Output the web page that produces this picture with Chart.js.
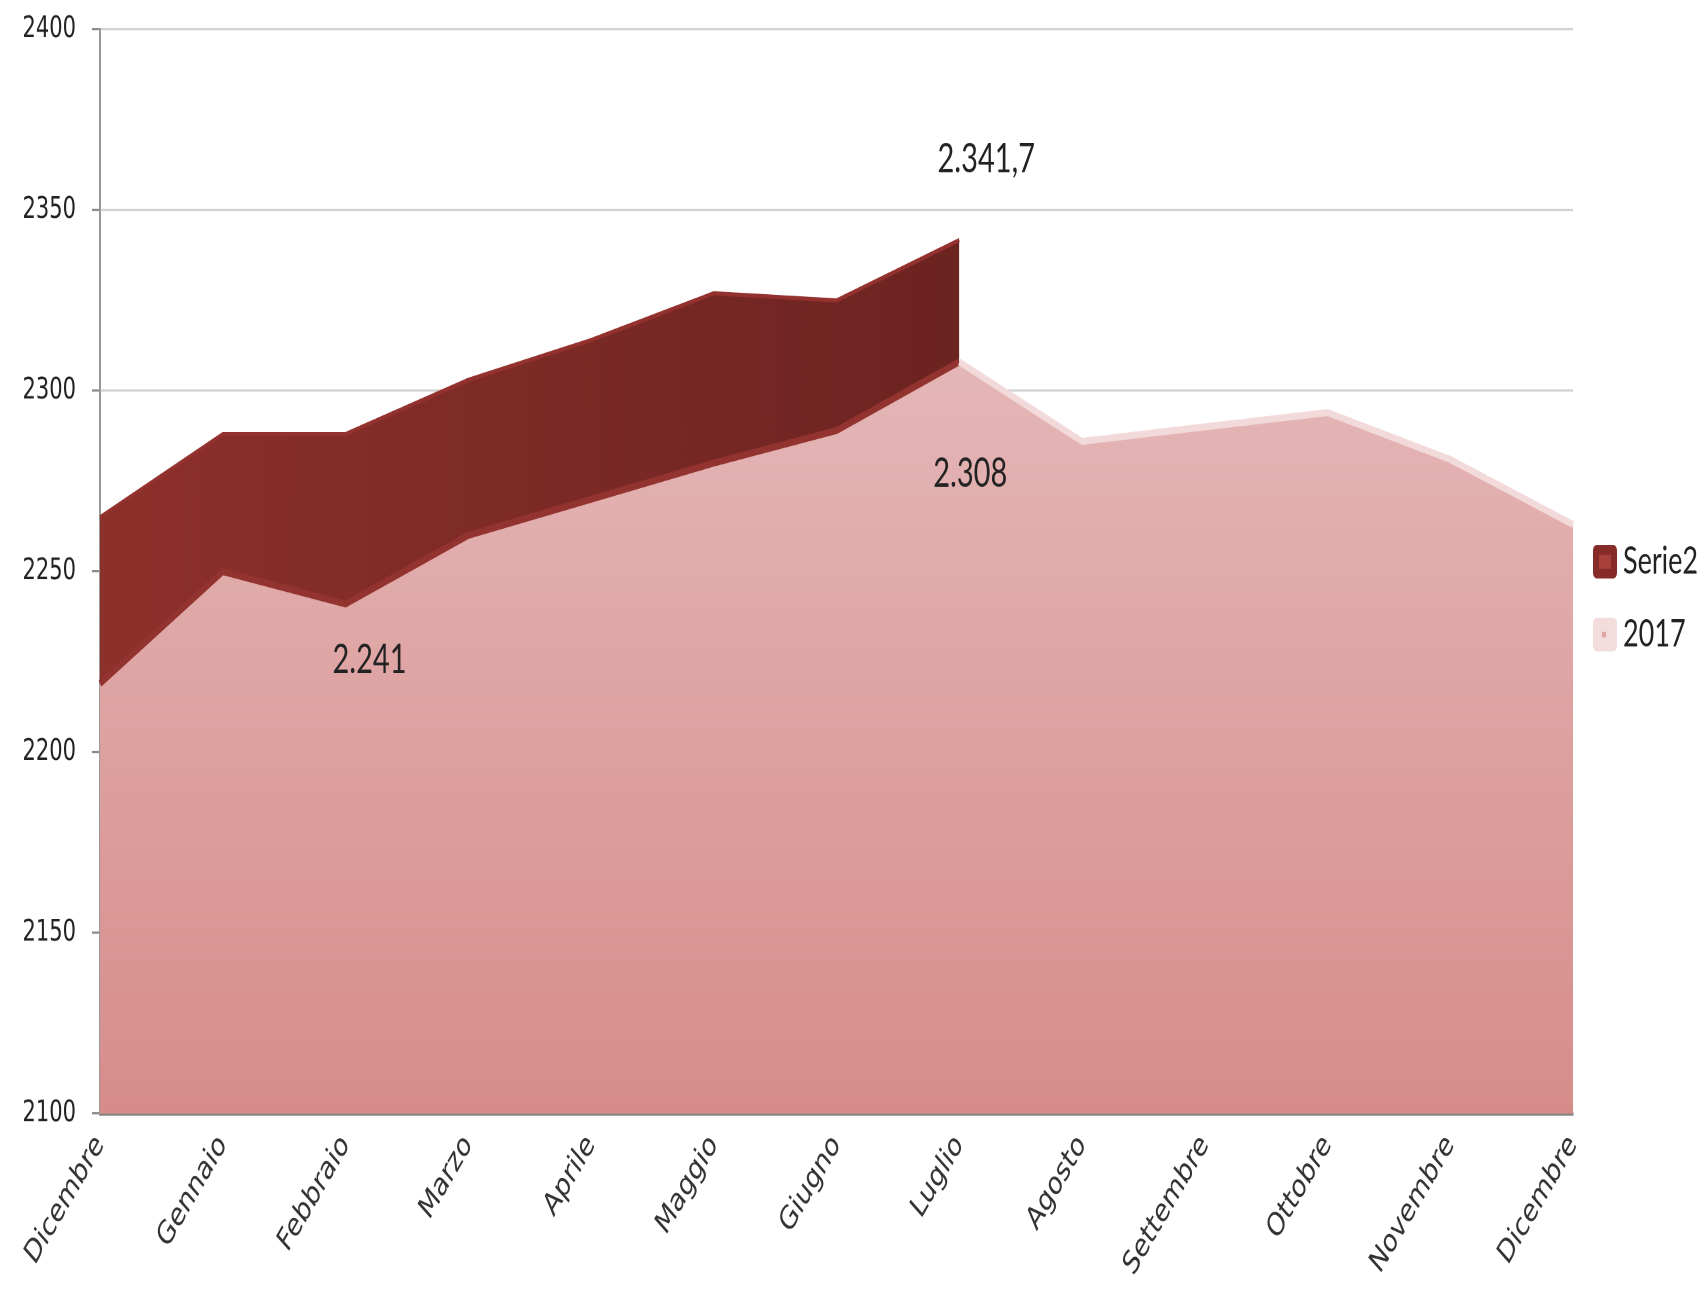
<!DOCTYPE html>
<html>
<head>
<meta charset="utf-8">
<script src="https://cdn.jsdelivr.net/npm/chart.js@4.4.1/dist/chart.umd.min.js"></script>
<style>
  html, body { margin: 0; padding: 0; background: #ffffff; overflow: hidden; }
  #wrap { position: absolute; left: 0; top: 0; width: 1707px; height: 921px; transform: scaleY(1.4007); transform-origin: 0 0; }
  canvas { display: block; }
</style>
</head>
<body>
<div id="wrap"><canvas id="c" width="1707" height="921"></canvas></div>
<script>
// ---- data ----
const categories = ['Dicembre', 'Gennaio', 'Febbraio', 'Marzo', 'Aprile', 'Maggio', 'Giugno',
                    'Luglio', 'Agosto', 'Settembre', 'Ottobre', 'Novembre', 'Dicembre'];
const values2017 = [2219, 2250, 2241, 2260, 2270, 2280, 2289, 2308, 2286, 2290, 2294, 2281, 2263];
const valuesSerie2 = [2265, 2288, 2288, 2303, 2314, 2327, 2325, 2341.7, null, null, null, null, null];
const labels2017 = [null, null, '2.241', null, null, null, null, '2.308', null, null, null, null, null];
const labelsSerie2 = [null, null, null, null, null, null, null, '2.341,7', null, null, null, null, null];
const yMin = 2100, yMax = 2400, yStep = 50;
const legendNames = ['Serie2', '2017'];

// ---- styling ----
const labelOffsets2017 = [null, null, [24, 40], null, null, null, null, [11, 80], null, null, null, null, null];
const labelOffsetsSerie2 = [null, null, null, null, null, null, null, [27, -58], null, null, null, null, null];

function pinkFill(context) {
  const chart = context.chart;
  const area = chart.chartArea;
  if (!area) return '#dea3a3';
  const g = chart.ctx.createLinearGradient(0, area.top, 0, area.bottom);
  g.addColorStop(0, '#ecc8c8');
  g.addColorStop(0.35, '#e4b4b4');
  g.addColorStop(1, '#d68d8a');
  return g;
}
function darkFill(context) {
  const chart = context.chart;
  const area = chart.chartArea;
  if (!area) return '#7d2a27';
  const g = chart.ctx.createLinearGradient(area.left, 0, area.left + (area.right - area.left) * 7 / 12, 0);
  g.addColorStop(0, '#8d302c');
  g.addColorStop(1, '#6c2421');
  return g;
}

const labelPlugin = {
  id: 'pointLabels',
  afterDatasetsDraw(chart) {
    const ctx = chart.ctx;
    ctx.save();
    ctx.font = '29px Lato, "Open Sans", sans-serif';
    ctx.fillStyle = '#222222';
    ctx.textAlign = 'center';
    ctx.textBaseline = 'middle';
    const sets = [[1, labels2017, labelOffsets2017], [2, labelsSerie2, labelOffsetsSerie2]];
    sets.forEach(([di, texts, offs]) => {
      const meta = chart.getDatasetMeta(di);
      texts.forEach((t, i) => {
        if (!t) return;
        const el = meta.data[i];
        const o = offs[i] || [0, 0];
        ctx.fillText(t, el.x + o[0], el.y + o[1]);
      });
    });
    ctx.restore();
  }
};

const legendPlugin = {
  id: 'sideLegend',
  afterDraw(chart) {
    const ctx = chart.ctx;
    const area = chart.chartArea;
    const bx = area.right + 20;
    const tx = area.right + 50;
    const rows = [401, 453];
    ctx.save();
    ctx.font = '27px Lato, "Open Sans", sans-serif';
    ctx.textBaseline = 'middle';
    ctx.textAlign = 'left';
    ctx.fillStyle = '#862b28';
    ctx.beginPath();
    ctx.roundRect(bx, rows[0] - 12, 24, 24, 4);
    ctx.fill();
    ctx.fillStyle = '#a8403b';
    ctx.fillRect(bx + 6, rows[0] - 5, 12, 10);
    ctx.fillStyle = '#f3dcdc';
    ctx.beginPath();
    ctx.roundRect(bx, rows[1] - 12, 24, 24, 4);
    ctx.fill();
    ctx.fillStyle = '#dea6a6';
    ctx.fillRect(bx + 9, rows[1] - 2, 4, 4);
    ctx.fillStyle = '#222222';
    ctx.fillText(legendNames[0], tx, rows[0]);
    ctx.fillText(legendNames[1], tx, rows[1]);
    ctx.restore();
  }
};

new Chart(document.getElementById('c'), {
  type: 'line',
  data: {
    labels: categories,
    datasets: [
      {
        // top edge of the 2017 area (3D rim)
        label: legendNames[1] + ' bordo',
        data: values2017,
        fill: false,
        borderWidth: 5,
        borderColor: '#f3dada',
        segment: {
          borderColor: c => (c.p0DataIndex < 7 ? '#93332f' : '#f3dada')
        },
        pointRadius: 0,
        tension: 0
      },
      {
        label: legendNames[1],
        data: values2017,
        fill: 'start',
        backgroundColor: pinkFill,
        borderWidth: 0,
        pointRadius: 0,
        tension: 0
      },
      {
        label: legendNames[0],
        data: valuesSerie2,
        fill: 'start',
        backgroundColor: darkFill,
        borderWidth: 3,
        borderColor: '#92312d',
        pointRadius: 0,
        tension: 0,
        spanGaps: false
      }
    ]
  },
  options: {
    responsive: false,
    devicePixelRatio: 2,
    animation: false,
    layout: { padding: { top: 21, right: 134, bottom: 0, left: 0 } },
    plugins: {
      legend: { display: false },
      tooltip: { enabled: false }
    },
    scales: {
      x: {
        offset: false,
        grid: { display: false, drawTicks: false },
        border: { display: true, color: '#858585', width: 2.5 },
        ticks: {
          minRotation: 51,
          maxRotation: 51,
          autoSkip: false,
          padding: 10,
          color: '#333333',
          font: { family: '"DejaVu Sans", Verdana, sans-serif', size: 23 }
        },
        afterFit: s => { s.height = 126; }
      },
      y: {
        min: yMin,
        max: yMax,
        grid: { color: '#d2d2d2', lineWidth: 1.6, tickLength: 8, tickColor: '#8a8a8a' },
        border: { display: true, color: '#999999', width: 2 },
        ticks: {
          stepSize: yStep,
          padding: 16,
          color: '#222222',
          font: { family: '"DejaVu Sans", Verdana, sans-serif', size: 21 },
          callback: v => String(v)
        },
        afterFit: s => { s.width = 100; s.paddingTop = 0; s.paddingBottom = 0; }
      }
    }
  },
  plugins: [labelPlugin, legendPlugin]
});
</script>
</body>
</html>
